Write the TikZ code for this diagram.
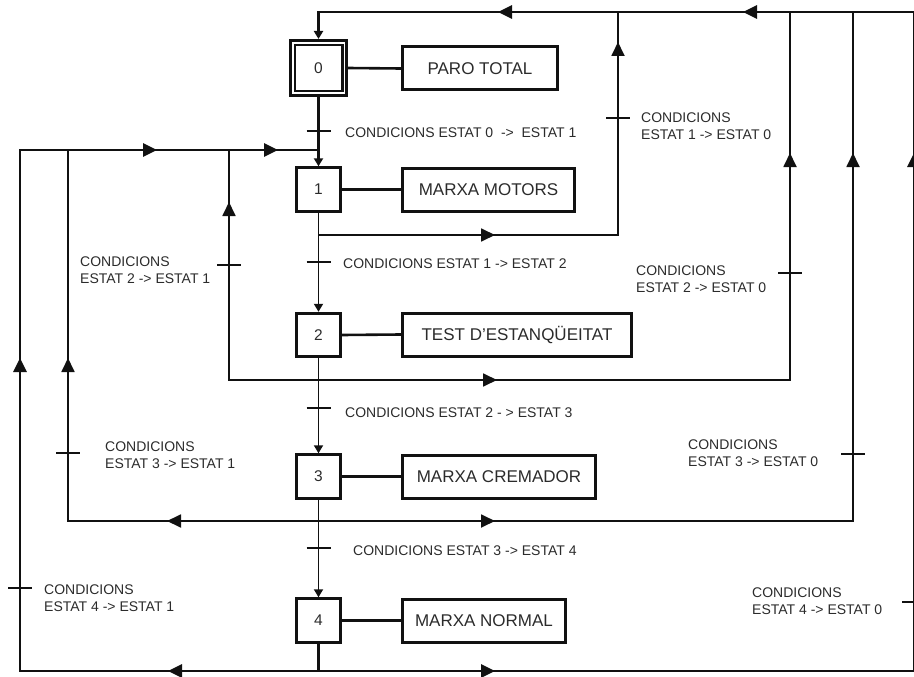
\documentclass[tikz,border=0pt]{standalone}
\usepackage{fontspec}
\setmainfont{Liberation Sans}
\usetikzlibrary{arrows.meta,decorations.markings}
\definecolor{txt}{HTML}{2B2B2B}
\definecolor{ln}{HTML}{111111}
\tikzset{
  Big/.tip={Triangle[length=14pt,width=13pt]},
  Small/.tip={Triangle[length=8pt,width=9pt]},
  stepbox/.style={draw=ln, line width=3pt, minimum width=44pt, minimum height=43.4pt, inner sep=0pt, font=\fontsize{15.5}{15.5}\selectfont, text=txt},
  actbox/.style={draw=ln, line width=3pt, minimum height=43pt, inner sep=0pt, font=\fontsize{17}{17}\selectfont, text=txt},
  flow/.style={draw=ln, line width=1.8pt},
  heavy/.style={draw=ln, line width=2.6pt},
  link/.style={draw=ln, line width=2.6pt},
  tickline/.style={draw=ln, line width=1.6pt},
  cond/.style={font=\fontsize{14}{17}\selectfont, text=txt, align=left, inner sep=0pt},
  mid/.style={postaction={decorate, decoration={markings, mark=at position #1 with {\arrow{Big}}}}},
}
\begin{document}
\begin{tikzpicture}[x=1pt,y=-1pt]
\useasboundingbox (0,0) rectangle (914,677);
% steps
\node[stepbox, minimum width=56pt, minimum height=55pt] (s0) at (318.5,68) {0};
\draw[ln, line width=2.6pt] ([shift={(6pt,-6pt)}]s0.north west) rectangle ([shift={(-5.5pt,6pt)}]s0.south east);
\node[stepbox] (s1) at (318.5,189.5) {1};
\node[stepbox] (s2) at (318.5,335) {2};
\node[stepbox] (s3) at (318.5,476.5) {3};
\node[stepbox] (s4) at (318.5,620.5) {4};
% actions
\node[actbox, minimum width=155pt] (a0) at (480,68.5) {PARO TOTAL};
\node[actbox, minimum width=172pt] (a1) at (488.5,189.5) {MARXA MOTORS};
\node[actbox, minimum width=229pt] (a2) at (517,334.5) {TEST D’ESTANQÜEITAT};
\node[actbox, minimum width=193pt] (a3) at (499,476.5) {MARXA CREMADOR};
\node[actbox, minimum width=163pt] (a4) at (484,620.5) {MARXA NORMAL};
\foreach \i in {0,...,4}{\draw[link] (s\i.east) -- (a\i.west);}
% coordinates
\coordinate (tl) at (318.5,12);
\coordinate (tr) at (914,12);
\coordinate (r618t) at (618,12);
\coordinate (r790t) at (790,12);
\coordinate (r853t) at (853,12);
\coordinate (j0) at (318.5,150);
\coordinate (l20t) at (20,150);
\coordinate (l68t) at (68,150);
\coordinate (l229t) at (229,150);
\coordinate (j1) at (318.5,235);
\coordinate (r618b) at (618,235);
\coordinate (j2) at (318.5,380);
\coordinate (l229b) at (229,380);
\coordinate (r790b) at (790,380);
\coordinate (j3) at (318.5,521);
\coordinate (l68b) at (68,521);
\coordinate (r853b) at (853,521);
\coordinate (j4) at (318.5,671);
\coordinate (l20b) at (20,671);
\coordinate (rb) at (914,671);
% main sequence
\draw[heavy, -Small, mid=171pt, mid=416pt] (tr) -- (tl) -- (s0.north);
\draw[heavy, -Small] (s0.south) -- (s1.north);
\draw[flow, -Small] (s1.south) -- (s2.north);
\draw[flow, -Small] (s2.south) -- (s3.north);
\draw[flow, -Small] (s3.south) -- (s4.north);
\draw[heavy] (s4.south) -- (j4);
% return loops to step 1
\draw[heavy, mid=150.5pt, mid=611.5pt, mid=956.5pt, mid=1077.5pt] (j4) -- (l20b) -- (l20t) -- (j0);
\draw[flow, mid=151.5pt, mid=413.5pt] (j3) -- (l68b) -- (l68t);
\draw[flow, mid=267.5pt] (j2) -- (l229b) -- (l229t);
% return loops to step 0
\draw[flow, mid=176.5pt, mid=492.5pt] (j1) -- (r618b) -- (r618t);
\draw[flow, mid=178.5pt, mid=698.5pt] (j2) -- (r790b) -- (r790t);
\draw[flow, mid=176.5pt, mid=902.5pt] (j3) -- (r853b) -- (r853t);
\draw[heavy, mid=176.5pt, mid=1113.5pt] (j4) -- (rb) -- (tr);
% transition ticks
\foreach \x/\y in {318.5/131, 318.5/262, 318.5/408, 318.5/548, 618/118, 790/273, 853/454, 914/602, 229/265, 68/453, 20/588}
  \draw[tickline] (\x-12,\y) -- (\x+12,\y);
% conditions
\node[cond, anchor=base west] (t01) at (345,138) {CONDICIONS ESTAT 0~ ->~ ESTAT 1};
\node[cond, anchor=base west] (t12) at (343,268) {CONDICIONS ESTAT 1 -> ESTAT 2};
\node[cond, anchor=base west] (t23) at (345,417) {CONDICIONS ESTAT 2 - > ESTAT 3};
\node[cond, anchor=base west] (t34) at (353,555) {CONDICIONS ESTAT 3 -> ESTAT 4};
\node[cond, anchor=north west] (t10) at (641,113) {CONDICIONS\\ESTAT 1 -> ESTAT 0};
\node[cond, anchor=north west] (t20) at (636,266) {CONDICIONS\\ESTAT 2 -> ESTAT 0};
\node[cond, anchor=north west] (t30) at (688,440) {CONDICIONS\\ESTAT 3 -> ESTAT 0};
\node[cond, anchor=north west] (t40) at (752,588) {CONDICIONS\\ESTAT 4 -> ESTAT 0};
\node[cond, anchor=north west] (t21) at (80,257) {CONDICIONS\\ESTAT 2 -> ESTAT 1};
\node[cond, anchor=north west] (t31) at (105,442) {CONDICIONS\\ESTAT 3 -> ESTAT 1};
\node[cond, anchor=north west] (t41) at (44,585) {CONDICIONS\\ESTAT 4 -> ESTAT 1};
\end{tikzpicture}
\end{document}
